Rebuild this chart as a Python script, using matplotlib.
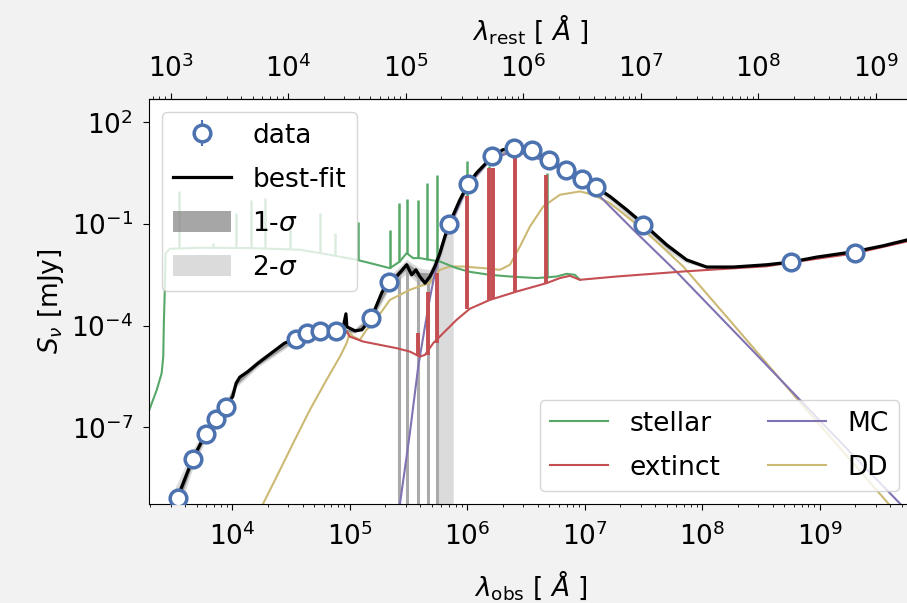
import matplotlib.pyplot as plt
from matplotlib.lines import Line2D
from matplotlib.patches import Patch
from matplotlib.ticker import NullLocator

plt.rcParams['font.family'] = 'DejaVu Sans'
plt.rcParams['font.size'] = 19

z = 2.0

# colours (seaborn "deep")
c_data = '#4c72b0'
c_stellar = '#55a868'
c_extinct = '#c44e52'
c_mc = '#8172b2'
c_dd = '#ccb974'

# photometric data points [Angstrom, mJy]
lam_data = [3.45e3, 4.6e3, 5.94e3, 7.23e3, 8.79e3, 3.47e4, 4.35e4, 5.57e4, 7.64e4,
            1.53e5, 2.17e5, 7.03e5, 1.02e6, 1.64e6, 2.51e6, 3.53e6, 4.99e6, 6.87e6,
            9.53e6, 1.26e7, 3.11e7, 5.65e8, 2.0e9]
flux_data = [8.5e-10, 1.15e-8, 6.5e-8, 1.74e-7, 4.12e-7, 4.11e-5, 6.05e-5, 7.08e-5, 7.08e-5,
             1.71e-4, 2.02e-3, 0.1, 1.52, 9.9, 17.5, 14.9, 7.55, 4.01,
             2.13, 1.21, 9.5e-2, 7.6e-3, 1.39e-2]

# best-fit model
lam_fit = [3.07e3, 3.45e3, 4.6e3, 5.94e3, 7.23e3, 8.79e3, 1.01e4, 1.08e4, 1.16e4, 1.36e4,
           1.66e4, 2.15e4, 2.79e4, 3.47e4, 4.35e4, 5.57e4, 7.64e4, 8.75e4, 9.29e4, 9.46e4,
           1.11e5, 1.27e5, 1.53e5, 1.87e5, 2.0e5, 2.2e5, 2.51e5, 3.05e5, 3.37e5, 3.66e5,
           3.95e5, 4.37e5, 4.82e5, 5.31e5, 5.86e5, 6.46e5, 7.03e5, 8.67e5, 1.02e6, 1.20e6,
           1.64e6, 2.01e6, 2.51e6, 3.53e6, 4.99e6, 6.87e6, 9.53e6, 1.26e7, 1.64e7, 2.28e7,
           3.15e7, 4.98e7, 7.36e7, 1.09e8, 1.84e8, 3.53e8, 5.65e8, 9.42e8, 2.0e9, 3.47e9, 5.85e9]
flux_fit = [3.7e-10, 8.9e-10, 1.15e-8, 6.5e-8, 1.74e-7, 4.12e-7, 8.1e-7, 2.02e-6, 3.04e-6, 4.45e-6,
            7.87e-6, 1.56e-5, 3.07e-5, 4.11e-5, 6.05e-5, 7.08e-5, 7.08e-5, 8.1e-5, 2.25e-4, 9.3e-5,
            7.08e-5, 7.6e-5, 1.71e-4, 9.2e-4, 1.44e-3, 2.02e-3, 2.84e-3, 6.3e-3, 3.18e-3, 4.48e-3,
            2.84e-3, 1.81e-3, 2.84e-3, 5.6e-3, 1.39e-2, 4.31e-2, 0.1, 0.522, 1.52, 3.21,
            9.9, 15.6, 17.5, 14.9, 7.55, 4.01, 2.13, 1.21, 0.653, 0.264,
            0.102, 2.45e-2, 8.8e-3, 5.4e-3, 5.4e-3, 6.3e-3, 7.55e-3, 1.06e-2, 1.55e-2, 2.29e-2, 3.56e-2]

# uncertainty bands
lam_band = [3.0e3, 3.45e3, 4.6e3, 5.94e3, 8.79e3, 1.08e4, 1.66e4, 3.47e4, 7.64e4, 1.11e5,
            1.53e5, 2.2e5, 3.05e5, 3.95e5, 4.82e5, 5.86e5, 7.03e5, 1.02e6, 1.64e6, 2.51e6,
            4.99e6, 9.53e6, 1.64e7, 2.28e7, 3.15e7, 4.98e7, 7.36e7, 1.09e8, 3.53e8, 2.0e9, 5.85e9]
lo_2sig = [8e-11, 3e-10, 6e-9, 4.2e-8, 3.0e-7, 1.5e-6, 6.0e-6, 3.4e-5, 6.0e-5, 6.0e-5,
           1.3e-4, 1.3e-3, 3.5e-3, 1.6e-3, 1.6e-3, 7.0e-3, 6.0e-2, 1.2, 8.5, 15.5,
           6.8, 1.85, 0.5, 0.18, 6.5e-2, 1.6e-2, 7.2e-3, 4.9e-3, 5.8e-3, 1.45e-2, 3.3e-2]
hi_2sig = [9e-10, 2.5e-9, 2.2e-8, 9.5e-8, 5.6e-7, 2.6e-6, 1.05e-5, 5.0e-5, 8.5e-5, 8.5e-5,
           2.4e-4, 3.0e-3, 9.0e-3, 5.0e-3, 4.5e-3, 2.2e-2, 0.15, 1.9, 11.0, 19.0,
           8.2, 2.35, 0.7, 0.285, 0.11, 2.7e-2, 9.6e-3, 5.8e-3, 6.7e-3, 1.65e-2, 3.8e-2]
lo_1sig = [1.6e-10, 5.2e-10, 8.2e-9, 5.2e-8, 3.5e-7, 1.75e-6, 6.9e-6, 3.8e-5, 6.5e-5, 6.5e-5,
           1.5e-4, 1.6e-3, 4.7e-3, 2.1e-3, 2.1e-3, 1.0e-2, 8.0e-2, 1.35, 9.2, 16.5,
           7.2, 2.0, 0.58, 0.22, 8.3e-2, 2.0e-2, 8.0e-3, 5.1e-3, 6.0e-3, 1.5e-2, 3.4e-2]
hi_1sig = [5.5e-10, 1.5e-9, 1.6e-8, 7.9e-8, 4.8e-7, 2.3e-6, 9.0e-6, 4.5e-5, 7.8e-5, 7.8e-5,
           2.0e-4, 2.5e-3, 7.5e-3, 3.8e-3, 3.6e-3, 1.75e-2, 0.125, 1.7, 10.5, 18.3,
           7.9, 2.25, 0.68, 0.275, 0.106, 2.6e-2, 9.2e-3, 5.6e-3, 6.5e-3, 1.6e-2, 3.7e-2]

# narrow dips of the band down to the bottom
lam_dip = [2.65e5, 3.08e5, 3.83e5, 4.63e5, 5.55e5]
top_dip = [3.5e-3, 6.0e-3, 3.5e-3, 2.2e-3, 7.0e-3]
lam_strip = [5.66e5, 6.46e5, 7.6e5]
top_strip = [8e-3, 4e-2, 0.2]

# stellar component
lam_stellar = [1.97e3, 2.28e3, 2.51e3, 2.59e3, 2.62e3, 2.67e3, 2.71e3, 2.95e3, 5.31e3, 1.42e4,
               3.77e4, 6.78e4, 1.15e5, 1.49e5, 2.2e5, 2.67e5, 3.05e5, 3.47e5, 3.95e5, 4.82e5,
               5.86e5, 8.13e5, 1.05e6, 1.56e6, 2.31e6, 3.9e6, 5.77e6, 7.02e6, 8.26e6, 9.1e6]
flux_stellar = [3.29e-7, 1.28e-6, 3.99e-6, 1.23e-5, 1.19e-4, 1.15e-3, 1.39e-2, 1.87e-2, 2.0e-2, 1.96e-2,
                1.75e-2, 1.24e-2, 8.8e-3, 7.06e-3, 5.0e-3, 7.87e-3, 1.39e-2, 9.9e-3, 9.9e-3, 8.8e-3,
                7.87e-3, 5.0e-3, 3.9e-3, 3.18e-3, 2.84e-3, 2.55e-3, 2.84e-3, 3.41e-3, 3.18e-3, 2.27e-3]
# stellar emission lines
lam_sline = [3.56e3, 6.89e3, 1.08e4, 1.45e4, 1.89e4, 3.1e4, 5.55e4, 7.48e4,
             1.18e5, 2.2e5, 2.64e5, 3.07e5, 3.78e5, 4.52e5, 5.52e5, 9.89e5, 1.54e6, 4.74e6]
base_sline = [1.9e-2, 2.0e-2, 1.97e-2, 1.96e-2, 1.9e-2, 1.8e-2, 1.45e-2, 1.2e-2,
              8.7e-3, 5.0e-3, 7.5e-3, 1.35e-2, 9.9e-3, 9.0e-3, 8.2e-3, 4.3e-3, 3.2e-3, 2.6e-3]
top_sline = [0.92, 2.8e-2, 0.216, 0.52, 0.6, 0.109, 0.216, 5.5e-2,
             0.119, 6.8e-2, 0.417, 0.558, 0.522, 1.63, 2.86, 7.06, 5.0, 3.27]

# extinct component
lam_extinct = [9.46e4, 1.0e5, 1.30e5, 1.81e5, 2.51e5, 3.25e5, 3.95e5, 4.37e5, 5.14e5, 6.25e5,
               8.13e5, 1.05e6, 1.56e6, 2.63e6, 4.74e6, 6.15e6, 7.48e6, 9.1e6, 1.87e7, 6.89e7,
               1.16e8, 3.53e8, 9.42e8, 2.0e9, 5.85e9]
flux_extinct = [6.6e-5, 4.8e-5, 3.42e-5, 2.73e-5, 2.18e-5, 1.73e-5, 1.23e-5, 1.38e-5, 3.07e-5, 6.05e-5,
                1.5e-4, 3.16e-4, 5.8e-4, 1.02e-3, 1.81e-3, 2.55e-3, 2.98e-3, 2.27e-3, 2.84e-3, 3.99e-3,
                4.48e-3, 5.68e-3, 9.46e-3, 1.37e-2, 3.21e-2]
lam_eline = [3.83e5, 4.63e5, 5.52e5, 9.89e5, 1.54e6, 1.67e6, 2.56e6, 4.73e6]
base_eline = [1.3e-5, 1.38e-5, 3.13e-5, 3.16e-4, 5.8e-4, 6.2e-4, 1.02e-3, 1.81e-3]
top_eline = [6.2e-5, 1.0e-3, 3.65e-3, 0.653, 4.5, 4.5, 9.9, 2.86]

# MC component
lam_mc = [2.67e5, 3.25e5, 3.83e5, 4.37e5, 4.82e5, 5.31e5, 6.1e5, 7.13e5, 1.01e6, 1.56e6,
          2.55e6, 5.06e6, 9.1e6, 1.35e7, 2.59e7, 6.05e7, 2.55e8, 6.79e8, 1.81e9, 6.1e9]
flux_mc = [5.2e-10, 6.75e-8, 6.25e-6, 9.48e-5, 6.67e-4, 3.57e-3, 2.45e-2, 8.9e-2, 1.35, 7.9,
           14.6, 6.46, 1.77, 0.653, 6.8e-2, 3.9e-3, 2.23e-5, 6.5e-7, 1.9e-8, 2.44e-10]

# DD component
lam_dd = [1.84e4, 2.39e4, 3.3e4, 4.58e4, 6.35e4, 8.26e4, 9.42e4, 1.0e5, 1.07e5, 1.22e5,
          1.39e5, 1.59e5, 2.2e5, 3.25e5, 4.82e5, 5.86e5, 7.13e5, 9.25e5, 1.37e6, 1.9e6,
          2.31e6, 2.81e6, 3.42e6, 4.44e6, 6.15e6, 9.1e6, 1.18e7, 1.64e7, 2.28e7, 3.15e7,
          4.37e7, 6.89e7, 1.84e8, 6.35e8, 3.8e9, 6.1e9]
flux_dd = [5.8e-10, 3.53e-9, 3.42e-8, 3.29e-7, 2.53e-6, 1.23e-5, 3.07e-5, 6.05e-5, 4.81e-5, 3.84e-5,
           7.57e-5, 1.19e-4, 5.8e-4, 1.15e-3, 1.85e-3, 4.48e-3, 5.6e-3, 5.6e-3, 5.02e-3, 4.48e-3,
           6.3e-3, 2.18e-2, 8.5e-2, 0.331, 0.733, 0.918, 0.733, 0.417, 0.168, 6.8e-2,
           2.45e-2, 5.6e-3, 1.09e-4, 7.3e-7, 5.9e-10, 9.1e-11]

fig = plt.figure(figsize=(9.07, 6.03), dpi=100, facecolor='#f2f2f2')
ax = fig.add_axes([0.1646, 0.1637, 0.8409, 0.6721])
ax.set_xscale('log')
ax.set_yscale('log')
ax.set_xlim(1.97e3, 6.1e9)
ax.set_ylim(5.4e-10, 4.9e2)
ymin = 5.4e-10

# uncertainty bands
ax.fill_between(lam_band, lo_2sig, hi_2sig, color='lightgray', alpha=0.8, lw=0, zorder=1)
ax.fill_between(lam_band, lo_1sig, hi_1sig, color='gray', alpha=0.7, lw=0, zorder=1.1)
ax.fill_between(lam_strip, ymin * 0.1, top_strip, color='lightgray', alpha=0.8, lw=0, zorder=1)
ax.vlines(lam_dip, ymin * 0.1, top_dip, color='#aaaaaa', lw=2.2, zorder=1.1)

# components
ax.plot(lam_dd, flux_dd, color=c_dd, lw=1.5, zorder=2)
ax.plot(lam_mc, flux_mc, color=c_mc, lw=1.5, zorder=2.1)
ax.plot(lam_stellar, flux_stellar, color=c_stellar, lw=1.5, zorder=2.5)
ax.vlines(lam_sline, base_sline, top_sline, color=c_stellar, lw=1.8, zorder=2.5)
ax.plot(lam_extinct, flux_extinct, color=c_extinct, lw=1.5, zorder=3)
ax.vlines(lam_eline, base_eline, top_eline, color=c_extinct, lw=2.8, zorder=3)

# best fit + data
ax.plot(lam_fit, flux_fit, color='black', lw=2.3, zorder=4)
eb = ax.errorbar(lam_data, flux_data, yerr=0, fmt='o', ms=12, mew=2.5,
                 mec=c_data, mfc='white', color=c_data, zorder=5)

ax.set_yticks([1e2, 1e-1, 1e-4, 1e-7])
ax.yaxis.set_minor_locator(NullLocator())
ax.tick_params(axis='x', which='major', length=4.5, pad=8.5)
ax.tick_params(axis='y', which='major', length=4.5, pad=7)
ax.set_xlabel(r'$\lambda_\mathrm{obs}$ [ $\AA$ ]', labelpad=12)
ax.set_ylabel(r'$S_\nu$ [mJy]')

secax = ax.secondary_xaxis('top', functions=(lambda x: x / (1 + z), lambda x: x * (1 + z)))
secax.tick_params(which='major', length=4.5, pad=7)
secax.set_xlabel(r'$\lambda_\mathrm{rest}$ [ $\AA$ ]', labelpad=11)

h_fit = Line2D([], [], color='black', lw=2.3)
h_1s = Patch(facecolor='gray', alpha=0.7, lw=0)
h_2s = Patch(facecolor='lightgray', alpha=0.8, lw=0)
leg1 = ax.legend([eb, h_fit, h_1s, h_2s], ['data', 'best-fit', r'1-$\sigma$', r'2-$\sigma$'],
                 loc='upper left', labelspacing=0.68, handlelength=2.2, handleheight=0.8)
ax.add_artist(leg1)

comp = [Line2D([], [], color=c, lw=1.5) for c in (c_stellar, c_extinct, c_mc, c_dd)]
ax.legend(comp, ['stellar', 'extinct', 'MC', 'DD'], loc='lower right', ncol=2,
          labelspacing=0.68, handlelength=2.2, columnspacing=1.8)

fig.savefig('out.png', dpi=100, facecolor=fig.get_facecolor())
